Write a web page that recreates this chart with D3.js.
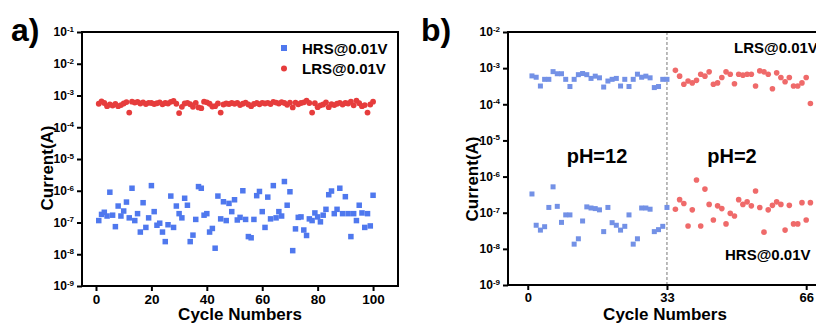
<!DOCTYPE html>
<html lang="en">
<head>
<meta charset="UTF-8">
<title>Cycle endurance</title>
<script src="https://d3js.org/d3.v7.min.js"></script>
<style>
  body { margin: 0; background: #fff; }
  svg { display: block; font-family: "Liberation Sans", Arial, sans-serif; font-weight: bold; }
</style>
</head>
<body>
<div id="chart"></div>
<script>
// ---- panel a) data: cycles 1..100, current in A ----
const aCycles = d3.range(1, 101);
const aHRS = [
  1.15e-7, 1.8e-7, 2.1e-7, 1.6e-7, 9e-7, 1.7e-7, 7.4e-8, 3.3e-7, 1.6e-7, 2.3e-7,
  4.4e-7, 1.4e-7, 1.2e-6, 1.15e-7, 1.9e-7, 5e-8, 4.2e-7, 7e-8, 1.4e-7, 1.45e-6,
  2.2e-7, 8.2e-8, 9.5e-8, 5e-8, 2.5e-8, 8.5e-8, 6.8e-7, 7e-8, 3.3e-7, 1.9e-7,
  1.4e-7, 5.8e-7, 3.5e-7, 2.5e-8, 4e-8, 1.25e-7, 1.35e-6, 1.2e-6, 1.7e-7, 1.9e-7,
  5e-8, 6.5e-8, 1.55e-8, 6.8e-7, 1.3e-7, 4.5e-7, 1.15e-7, 4e-7, 2.2e-7, 5.2e-7,
  1.2e-7, 1.45e-7, 1e-6, 1.25e-7, 3.6e-8, 3.3e-8, 1.25e-7, 7e-7, 9.5e-7, 2.2e-7,
  7e-8, 6.3e-7, 1.3e-7, 1.45e-6, 1.4e-7, 2.2e-7, 1.6e-7, 1.95e-6, 3.5e-7, 9.3e-7,
  1.3e-8, 6.3e-8, 1.45e-7, 1.5e-7, 5.8e-8, 3.9e-8, 1.3e-7, 1.15e-7, 2e-7, 1.5e-7,
  1.05e-7, 1.7e-7, 2.6e-7, 7.5e-7, 9.8e-7, 1.9e-7, 2.6e-7, 1.2e-6, 1.9e-7, 6.5e-7,
  1.9e-7, 3.6e-8, 1.9e-7, 1.15e-7, 3.5e-7, 2e-7, 7e-8, 1.9e-7, 7.8e-8, 7.2e-7
];
const aLRS = [
  5.5e-4, 6.5e-4, 5.8e-4, 4.6e-4, 5.2e-4, 4.8e-4, 5.4e-4, 4.6e-4, 5.0e-4, 5.6e-4,
  6.2e-4, 2.9e-4, 6.4e-4, 6.0e-4, 6.3e-4, 5.6e-4, 6.1e-4, 5.4e-4, 5.9e-4, 5.8e-4,
  5.4e-4, 5.7e-4, 6.1e-4, 5.3e-4, 5.8e-4, 5.6e-4, 6.3e-4, 6.7e-4, 5.5e-4, 2.8e-4,
  4.4e-4, 5.6e-4, 5.9e-4, 5.3e-4, 4.4e-4, 5.9e-4, 4.2e-4, 4.0e-4, 6.4e-4, 6.1e-4,
  5.5e-4, 4.5e-4, 4.6e-4, 5.6e-4, 2.9e-4, 5.2e-4, 5.6e-4, 5.4e-4, 5.8e-4, 5.5e-4,
  5.9e-4, 5.0e-4, 5.5e-4, 6.0e-4, 5.2e-4, 4.6e-4, 5.4e-4, 5.8e-4, 5.3e-4, 5.9e-4,
  5.6e-4, 5.9e-4, 5.4e-4, 6.3e-4, 6.0e-4, 5.6e-4, 6.2e-4, 5.8e-4, 5.1e-4, 6.0e-4,
  4.2e-4, 6.0e-4, 5.3e-4, 5.8e-4, 6.1e-4, 6.9e-4, 5.8e-4, 2.9e-4, 5.7e-4, 4.3e-4,
  4.9e-4, 5.2e-4, 6.1e-4, 4.3e-4, 5.3e-4, 5.0e-4, 5.5e-4, 5.9e-4, 5.2e-4, 5.8e-4,
  5.6e-4, 6.4e-4, 4.9e-4, 6.9e-4, 5.7e-4, 4.6e-4, 5.0e-4, 2.9e-4, 5.2e-4, 6.4e-4
];
const aXTicks = [0, 20, 40, 60, 80, 100];
const aYTicks = [1e-9, 1e-8, 1e-7, 1e-6, 1e-5, 1e-4, 1e-3, 1e-2, 1e-1];

// ---- panel b) data: pH=12 cycles 1..33 (blue), pH=2 cycles 35..67 (red) ----
const bCyclesBase = d3.range(1, 34);
const bCyclesAcid = d3.range(35, 68);
const bLRSBase = [
  6.1e-4, 5.6e-4, 3.2e-4, 4.9e-4, 4.9e-4, 8e-4, 7e-4, 7e-4, 4.9e-4, 3.1e-4,
  4.9e-4, 6.6e-4, 7.1e-4, 6.6e-4, 5.2e-4, 6e-4, 5.4e-4, 3e-4, 4.4e-4, 4.9e-4,
  5.2e-4, 3.2e-4, 4.9e-4, 3.1e-4, 4.9e-4, 6.8e-4, 5.6e-4, 6e-4, 5.4e-4, 2.9e-4,
  3.1e-4, 4.9e-4, 4.9e-4
];
const bHRSBase = [
  3.3e-7, 4.5e-8, 3.3e-8, 4.1e-8, 1.4e-7, 5.2e-7, 1.5e-7, 5.4e-8, 8.7e-8, 8.7e-8,
  1.35e-8, 1.9e-8, 5.9e-8, 1.45e-7, 1.35e-7, 1.3e-7, 1.2e-7, 3e-8, 1.4e-7, 5.3e-8,
  4.5e-8, 3.3e-8, 4.2e-8, 8.7e-8, 1.35e-8, 1.9e-8, 1.35e-7, 1.35e-7, 1.25e-7, 3e-8,
  3.4e-8, 4.2e-8, 1.4e-7
];
const bLRSAcid = [
  8.7e-4, 6e-4, 3.6e-4, 4.4e-4, 3.9e-4, 4.6e-4, 6.8e-4, 6e-4, 7.9e-4, 3.6e-4,
  3.9e-4, 5.5e-4, 7.9e-4, 6.8e-4, 3.7e-4, 6.8e-4, 6.4e-4, 6.8e-4, 6.8e-4, 3.2e-4,
  8.4e-4, 7.9e-4, 6.8e-4, 2.7e-4, 7.4e-4, 5.5e-4, 4.2e-4, 5.5e-4, 3.2e-4, 3.2e-4,
  3.9e-4, 5.5e-4, 1.05e-4
];
const bHRSAcid = [
  1.25e-7, 2.3e-7, 1.8e-7, 4.3e-8, 1.2e-7, 8e-7, 4.3e-8, 4.5e-7, 1.7e-7, 6.3e-8,
  1.55e-7, 1.3e-7, 4.9e-8, 9.6e-8, 8.1e-8, 2.3e-7, 1.7e-7, 2e-7, 1.55e-7, 4e-7,
  1.4e-7, 2.9e-8, 1.2e-7, 1.6e-7, 2e-7, 1.7e-7, 3.3e-8, 1.6e-7, 4.9e-8, 4.9e-8,
  1.9e-7, 6.3e-8, 1.9e-7
];
const bXTicks = [0, 33, 66];
const bYTicks = [1e-9, 1e-8, 1e-7, 1e-6, 1e-5, 1e-4, 1e-3, 1e-2];

const width = 816, height = 325;
const svg = d3.select("#chart").append("svg")
  .attr("width", width)
  .attr("height", height)
  .style("overflow", "hidden");

function drawFrame(x, y, xTicks, yTicks, xFont) {
  const [x0, x1] = x.range();
  const [y1, y0] = y.range();

  // x axis
  const gx = svg.append("g")
    .attr("transform", `translate(0,${y1})`)
    .call(d3.axisBottom(x).tickValues(xTicks).tickSize(5).tickPadding(3).tickSizeOuter(0));
  gx.select(".domain").remove();
  gx.selectAll(".tick line").attr("stroke", "#000").attr("stroke-width", 2);
  gx.selectAll(".tick text")
    .attr("font-size", xFont)
    .attr("font-family", "'Liberation Sans', Arial, sans-serif")
    .attr("font-weight", "bold")
    .attr("fill", "#000");

  // y axis (log, 10^n labels)
  const gy = svg.append("g")
    .attr("transform", `translate(${x0},0)`)
    .call(d3.axisLeft(y).tickValues(yTicks).tickSize(5).tickPadding(3).tickSizeOuter(0));
  gy.select(".domain").remove();
  gy.selectAll(".tick line").attr("stroke", "#000").attr("stroke-width", 2);
  gy.selectAll(".tick text")
    .attr("font-family", "'Liberation Sans', Arial, sans-serif")
    .attr("font-weight", "bold")
    .attr("fill", "#000")
    .attr("font-size", 12)
    .each(function(d) {
      const t = d3.select(this);
      t.text(null);
      t.append("tspan").text("10");
      t.append("tspan")
        .attr("font-size", 8)
        .attr("dy", "-0.55em")
        .text(Math.round(Math.log10(d)));
    });

  // box
  svg.append("rect")
    .attr("x", x0).attr("y", y0)
    .attr("width", x1 - x0).attr("height", y1 - y0)
    .attr("fill", "none")
    .attr("stroke", "#000")
    .attr("stroke-width", 2);
}

function squares(data, x, y, color, size) {
  svg.append("g").selectAll("rect")
    .data(data)
    .enter().append("rect")
    .attr("x", d => x(d[0]) - size / 2)
    .attr("y", d => y(d[1]) - size / 2)
    .attr("width", size)
    .attr("height", size)
    .attr("fill", color);
}

function dots(data, x, y, color, r) {
  svg.append("g").selectAll("circle")
    .data(data)
    .enter().append("circle")
    .attr("cx", d => x(d[0]))
    .attr("cy", d => y(d[1]))
    .attr("r", r)
    .attr("fill", color);
}

function label(txt, x, y, size, anchor) {
  return svg.append("text")
    .attr("x", x).attr("y", y)
    .attr("font-size", size)
    .attr("text-anchor", anchor || "start")
    .text(txt);
}

// ================= panel a =================
const xA = d3.scaleLinear().domain([-5.05, 109]).range([82, 398]);
const yA = d3.scaleLog().domain([1e-9, 1e-1]).range([286, 32]);

squares(d3.zip(aCycles, aHRS), xA, yA, "#4f78ee", 5.5);
dots(d3.zip(aCycles, aLRS), xA, yA, "#e63c3c", 2.9);
drawFrame(xA, yA, aXTicks, aYTicks, 13.5);

// legend
svg.append("rect").attr("x", 281).attr("y", 45).attr("width", 6).attr("height", 6).attr("fill", "#4f78ee");
label("HRS@0.01V", 302, 53.5, 15);
svg.append("circle").attr("cx", 284).attr("cy", 68.5).attr("r", 3).attr("fill", "#e63c3c");
label("LRS@0.01V", 302, 74, 15);

label("a)", 11, 41, 32);
label("Cycle Numbers", 240, 320, 17, "middle");
label("Current(A)", 0, 0, 17, "middle")
  .attr("transform", "translate(53,168) rotate(-90)");

// ================= panel b =================
const xB = d3.scaleLinear().domain([-4.68, 72]).range([508, 831.5]);
const yB = d3.scaleLog().domain([1e-9, 1e-2]).range([285, 32]);

svg.append("line")
  .attr("x1", xB(33)).attr("x2", xB(33))
  .attr("y1", yB(1e-2)).attr("y2", yB(1e-9))
  .attr("stroke", "#777")
  .attr("stroke-width", 1)
  .attr("stroke-dasharray", "3,2");

squares(d3.zip(bCyclesBase, bLRSBase), xB, yB, "#7391e6", 5);
squares(d3.zip(bCyclesBase, bHRSBase), xB, yB, "#7391e6", 5);
dots(d3.zip(bCyclesAcid, bLRSAcid), xB, yB, "#ef6a6a", 2.8);
dots(d3.zip(bCyclesAcid, bHRSAcid), xB, yB, "#ef6a6a", 2.8);
drawFrame(xB, yB, bXTicks, bYTicks, 13);

label("LRS@0.01V", 734, 53, 15);
label("HRS@0.01V", 725, 260, 15);
label("pH=12", 597, 163, 20, "middle");
label("pH=2", 732, 163, 20, "middle");

label("b)", 421, 41, 32);
label("Cycle Numbers", 665, 320, 17, "middle");
label("Current(A)", 0, 0, 17, "middle")
  .attr("transform", "translate(478,179) rotate(-90)");
</script>
</body>
</html>
